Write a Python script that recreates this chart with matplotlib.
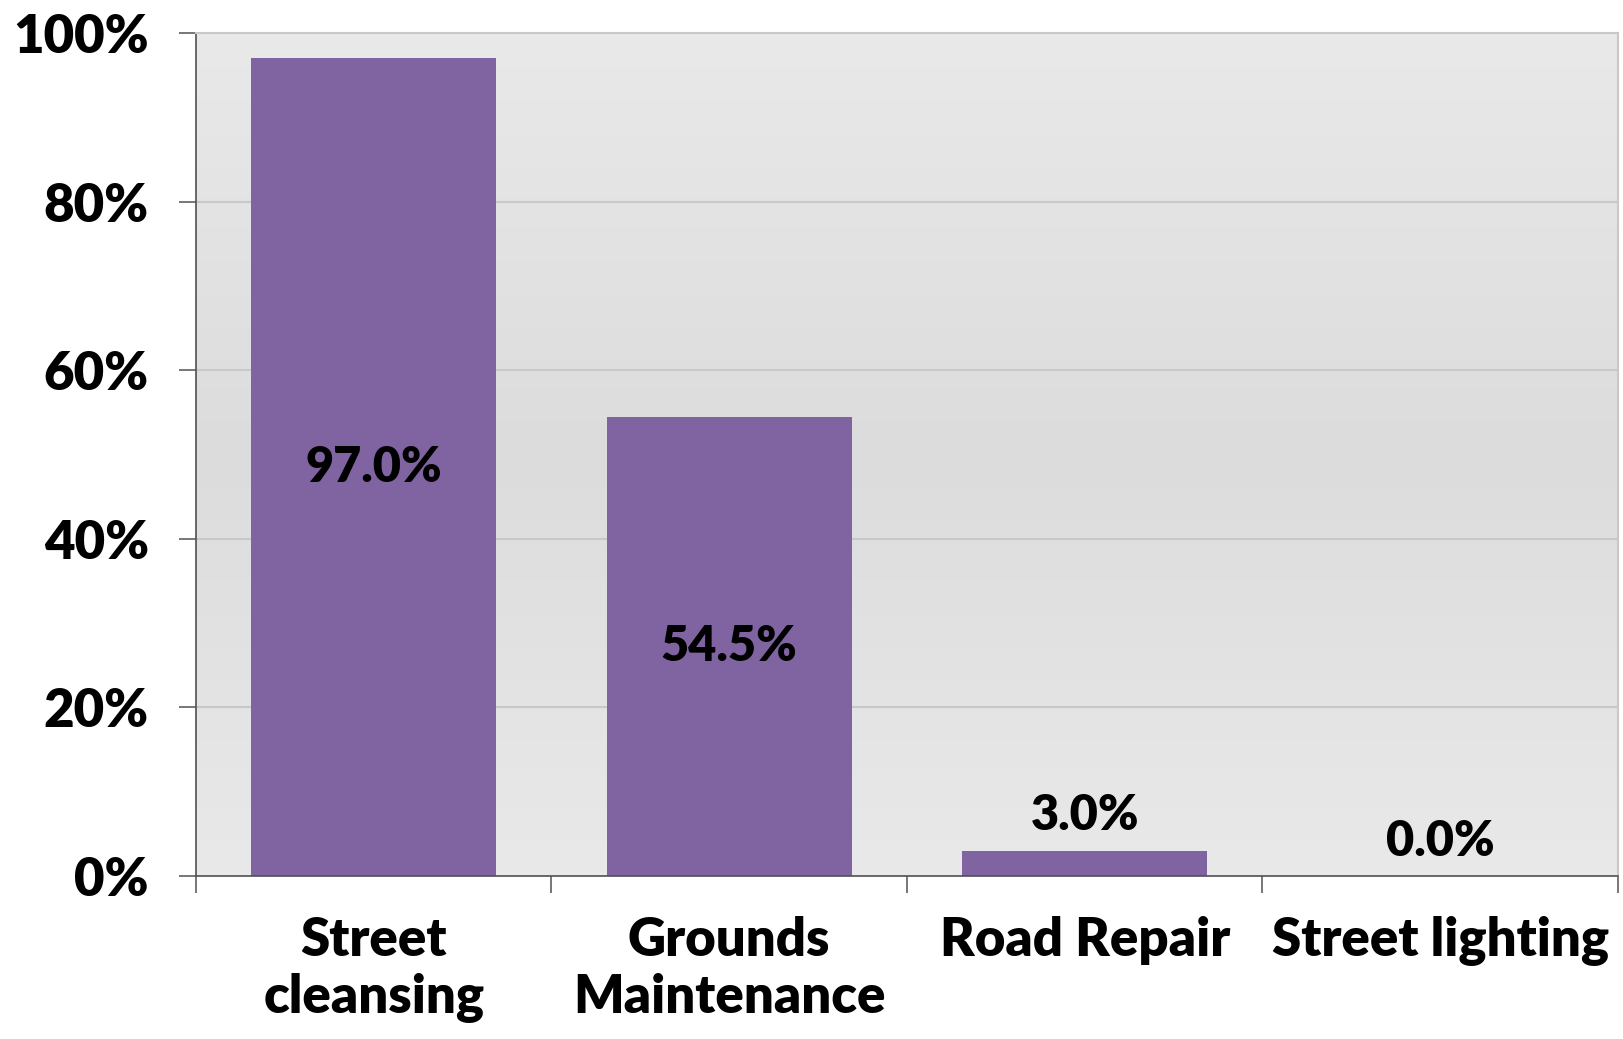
import numpy as np
import matplotlib.pyplot as plt
from matplotlib.colors import LinearSegmentedColormap

plt.rcParams['font.family'] = ['Lato', 'DejaVu Sans']
plt.rcParams['font.weight'] = 'heavy'

categories = ['Street\ncleansing', 'Grounds\nMaintenance', 'Road Repair', 'Street lighting']
values = [97.0, 54.5, 3.0, 0.0]
yticks = [0, 20, 40, 60, 80, 100]
ytick_labels = ['0%', '20%', '40%', '60%', '80%', '100%']

bar_col = '#8064a2'
W = 'heavy'

fig = plt.figure(figsize=(16.24, 10.39), dpi=100)
ax = fig.add_axes([196/1624, 1-876/1039, (1618-196)/1624, (876-33)/1039])

x = np.arange(len(categories))
ax.set_xlim(-0.5, len(categories)-0.5)
ax.set_ylim(0, 100)

# gradient background
cm = LinearSegmentedColormap.from_list('bg', ['#e9e9e9', '#dcdcdc', '#e9e9e9'])
ax.imshow(np.linspace(0, 1, 200).reshape(-1, 1), cmap=cm, aspect='auto',
          extent=[-0.5, len(categories)-0.5, 0, 100], zorder=0)

for yv in yticks[1:]:
    ax.axhline(yv, color='#c8c8c8', lw=1.5, zorder=1)

ax.bar(x, values, width=0.69, color=bar_col, zorder=2)

for xi, v in zip(x, values):
    lab = '%.1f%%' % v
    if v > 20:
        ax.text(xi, v/2, lab, ha='center', va='center', fontsize=35, fontweight=W, zorder=3)
    else:
        ax.annotate(lab, (xi, v), xytext=(0, 9), textcoords='offset points',
                    ha='center', va='bottom', fontsize=35, fontweight=W, zorder=3)

ax.set_yticks(yticks)
ax.set_yticklabels(ytick_labels, fontsize=38, fontweight=W)
ax.set_xticks(np.arange(len(categories)+1)-0.5, minor=False)
ax.set_xticklabels([])
ax.set_xticks(x, minor=True)
ax.set_xticklabels(categories, minor=True, fontsize=38, fontweight=W, linespacing=1.2)
ax.tick_params(axis='x', which='minor', length=0, pad=29)
ax.tick_params(axis='x', which='major', length=12, width=1.2, color='#606060', direction='out')
ax.tick_params(axis='y', length=12, width=1.2, color='#606060', direction='out', pad=22)

for s in ['top', 'right']:
    ax.spines[s].set_color('#c8c8c8')
    ax.spines[s].set_linewidth(1.5)
for s in ['left', 'bottom']:
    ax.spines[s].set_color('#505050')
    ax.spines[s].set_linewidth(1.2)

plt.savefig('out.png', dpi=100)
